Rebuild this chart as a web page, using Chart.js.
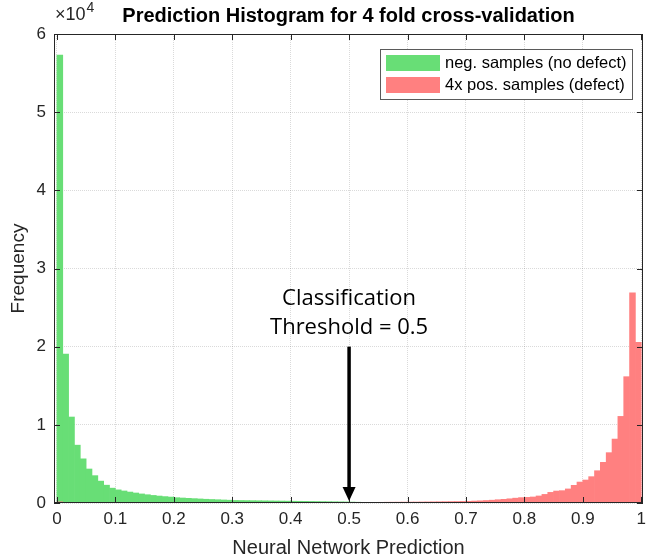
<!DOCTYPE html>
<html>
<head>
<meta charset="utf-8">
<script src="https://cdn.jsdelivr.net/npm/chart.js@4.4.0/dist/chart.umd.min.js"></script>
<style>
  html, body { margin: 0; padding: 0; background: #fff; }
  #wrap { width: 646px; height: 560px; }
</style>
</head>
<body>
<div id="wrap"><canvas id="hist"></canvas></div>
<script>
// histogram: 100 bins of width 0.01 between 0 and 1
const binWidth = 0.01;

const negCounts = [
  57300, 19050, 11000, 7400, 5650, 4350, 3500, 2800, 2280, 1900,
  1680, 1540, 1400, 1280, 1160, 1060, 970, 890, 820, 760,
  680, 640, 600, 560, 520, 480, 450, 420, 390, 360,
  330, 320, 310, 300, 290, 280, 270, 260, 250, 240,
  230, 220, 210, 200, 190, 180, 170, 160, 150, 140,
  120, 100, 80, 60, 50, 40, 35, 30, 25, 20,
  18, 16, 14, 12, 10, 9, 8, 7, 6, 5,
  5, 4, 4, 3, 3, 3, 2, 2, 2, 2,
  2, 1, 1, 1, 1, 1, 1, 1, 1, 1,
  1, 1, 1, 1, 1, 1, 1, 1, 1, 1
];

const posCounts = [
  150, 60, 40, 30, 25, 20, 18, 16, 15, 14,
  13, 12, 11, 10, 10, 10, 10, 10, 10, 10,
  10, 10, 10, 10, 10, 10, 10, 10, 10, 10,
  12, 12, 12, 12, 12, 14, 14, 14, 14, 14,
  16, 16, 18, 18, 20, 22, 24, 26, 30, 34,
  40, 50, 60, 70, 80, 90, 100, 105, 110, 115,
  120, 125, 130, 140, 150, 160, 170, 180, 190, 205,
  220, 250, 280, 320, 360, 420, 470, 540, 620, 690,
  720, 770, 900, 1100, 1360, 1530, 1580, 1800, 2260, 2680,
  2940, 3370, 4130, 5200, 6440, 8180, 11080, 16160, 26900, 20550
];

const xTicks = [0, 0.1, 0.2, 0.3, 0.4, 0.5, 0.6, 0.7, 0.8, 0.9, 1];
const xTickLabels = ['0', '0.1', '0.2', '0.3', '0.4', '0.5', '0.6', '0.7', '0.8', '0.9', '1'];
const yTicks = [0, 10000, 20000, 30000, 40000, 50000, 60000];
const yTickLabels = ['0', '1', '2', '3', '4', '5', '6'];

const seriesNames = ['neg. samples (no defect)', '4x pos. samples (defect)'];
const greenFill = 'rgb(104,222,118)';
const redFill = 'rgb(255,128,128)';
const ink = '#262626';
const gridColor = 'rgba(38,38,38,0.17)';
const font = '"Liberation Sans", Arial, sans-serif';

const threshold = 0.5;
const arrowTopValue = 20000;

function toPoints(counts) {
  return counts.map((c, i) => ({ x: (i + 0.5) * binWidth, y: c }));
}

// box, inward ticks, title, exponent, legend and threshold arrow
const decorations = {
  id: 'decorations',
  afterDraw(chart) {
    const ctx = chart.ctx;
    const area = chart.chartArea;
    const xs = chart.scales.x;
    const ys = chart.scales.y;
    ctx.save();

    // axes box
    ctx.strokeStyle = ink;
    ctx.lineWidth = 1;
    ctx.strokeRect(area.left + 0.5, area.top + 0.5, area.width - 1, area.height - 1);

    // inward tick marks on all four sides
    const tl = 6;
    ctx.beginPath();
    xTicks.forEach(v => {
      const px = Math.round(xs.getPixelForValue(v)) + 0.5;
      ctx.moveTo(px, area.bottom); ctx.lineTo(px, area.bottom - tl);
      ctx.moveTo(px, area.top); ctx.lineTo(px, area.top + tl);
    });
    yTicks.forEach(v => {
      const py = Math.round(ys.getPixelForValue(v)) + 0.5;
      ctx.moveTo(area.left, py); ctx.lineTo(area.left + tl, py);
      ctx.moveTo(area.right, py); ctx.lineTo(area.right - tl, py);
    });
    ctx.stroke();

    // title
    ctx.fillStyle = '#000';
    ctx.font = 'bold 20px ' + font;
    ctx.textAlign = 'center';
    ctx.textBaseline = 'alphabetic';
    ctx.fillText('Prediction Histogram for 4 fold cross-validation', (area.left + area.right) / 2, 22);

    // exponent label
    ctx.fillStyle = ink;
    ctx.textAlign = 'left';
    ctx.font = '18px ' + font;
    ctx.fillText('\u00d710', area.left + 1, 20);
    const w = ctx.measureText('\u00d710').width;
    ctx.font = '14px ' + font;
    ctx.fillText('4', area.left + 1 + w + 1, 12);

    // legend
    const lx = 380, ly = 49, lw = 252, lh = 50;
    ctx.fillStyle = '#fff';
    ctx.fillRect(lx, ly, lw, lh);
    ctx.strokeStyle = '#5a5a5a';
    ctx.strokeRect(lx + 0.5, ly + 0.5, lw, lh);
    ctx.font = '16.5px ' + font;
    ctx.textBaseline = 'middle';
    chart.data.datasets.forEach((ds, i) => {
      const sy = ly + 6 + i * 22;
      ctx.fillStyle = ds.backgroundColor;
      ctx.fillRect(lx + 6, sy, 54, 16);
      ctx.fillStyle = '#000';
      ctx.fillText(ds.label, lx + 65, sy + 8.5);
    });

    // threshold annotation
    const ax = xs.getPixelForValue(threshold);
    const aTop = ys.getPixelForValue(arrowTopValue);
    const aBot = ys.getPixelForValue(0) - 2;
    ctx.strokeStyle = '#000';
    ctx.fillStyle = '#000';
    ctx.lineWidth = 3.5;
    ctx.beginPath();
    ctx.moveTo(ax, aTop);
    ctx.lineTo(ax, aBot - 12);
    ctx.stroke();
    ctx.beginPath();
    ctx.moveTo(ax - 6.5, aBot - 14);
    ctx.lineTo(ax + 6.5, aBot - 14);
    ctx.lineTo(ax, aBot);
    ctx.closePath();
    ctx.fill();

    ctx.font = '22px "Open Sans", "Noto Sans", sans-serif';
    ctx.textAlign = 'center';
    ctx.textBaseline = 'middle';
    ctx.fillText('Classification', ax, aTop - 48);
    ctx.fillText('Threshold = 0.5', ax, aTop - 19);

    ctx.restore();
  }
};

const ctx = document.getElementById('hist').getContext('2d');
new Chart(ctx, {
  type: 'bar',
  data: {
    datasets: [
      {
        label: seriesNames[0],
        data: toPoints(negCounts),
        backgroundColor: greenFill,
        borderWidth: 0,
        barPercentage: 1,
        categoryPercentage: 1,
        grouped: false,
        order: 2
      },
      {
        label: seriesNames[1],
        data: toPoints(posCounts),
        backgroundColor: redFill,
        borderWidth: 0,
        barPercentage: 1,
        categoryPercentage: 1,
        grouped: false,
        order: 1
      }
    ]
  },
  options: {
    responsive: true,
    maintainAspectRatio: false,
    devicePixelRatio: 1,
    animation: false,
    layout: { padding: { top: 34, right: 3, left: 0, bottom: 0 } },
    plugins: {
      legend: { display: false },
      tooltip: { enabled: false },
      title: { display: false }
    },
    scales: {
      x: {
        type: 'linear',
        offset: false,
        min: -0.005,
        max: 1.003,
        afterBuildTicks: s => { s.ticks = xTicks.map(v => ({ value: v })); },
        afterFit: s => { s.height = 57; s.paddingLeft = 0; s.paddingRight = 0; },
        ticks: {
          autoSkip: false,
          maxRotation: 0,
          padding: 6,
          color: ink,
          font: { family: font, size: 17 },
          callback: (v, i) => xTickLabels[i]
        },
        grid: { color: gridColor, drawTicks: false, offset: false },
        border: { display: false, dash: [1, 1] },
        title: {
          display: true,
          text: 'Neural Network Prediction',
          color: ink,
          font: { family: font, size: 20 },
          padding: { top: 0, bottom: 0 }
        }
      },
      y: {
        min: 0,
        max: 60000,
        afterBuildTicks: s => { s.ticks = yTicks.map(v => ({ value: v })); },
        afterFit: s => { s.width = 54; s.paddingTop = 0; s.paddingBottom = 0; },
        ticks: {
          padding: 8,
          color: ink,
          font: { family: font, size: 17 },
          callback: (v, i) => yTickLabels[i]
        },
        grid: { color: gridColor, drawTicks: false },
        border: { display: false, dash: [1, 1] },
        title: {
          display: true,
          text: 'Frequency',
          color: ink,
          font: { family: font, size: 19 },
          padding: { top: 7, bottom: 0 }
        }
      }
    }
  },
  plugins: [decorations]
});
</script>
</body>
</html>
